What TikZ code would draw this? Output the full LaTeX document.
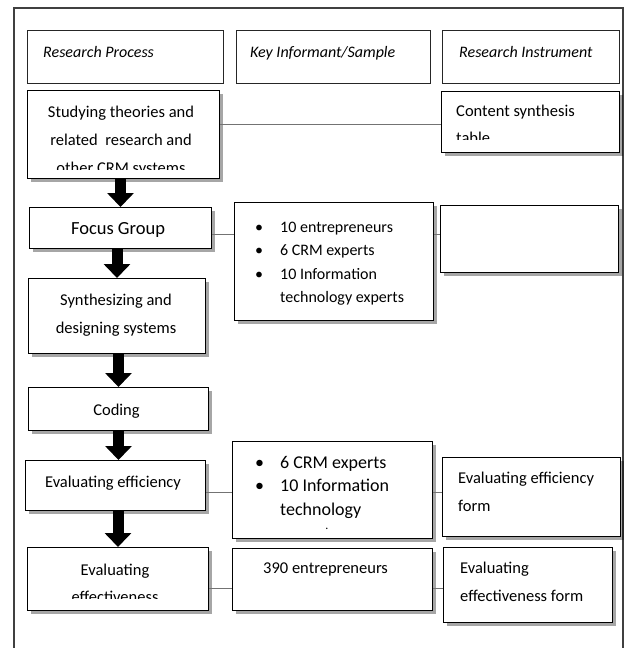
\documentclass[tikz,border=0pt]{standalone}
\usepackage{fontspec}
\setmainfont{Carlito}
\usetikzlibrary{arrows.meta,shadows}
\begin{document}
\begin{tikzpicture}[x=1pt,y=-1pt,
  box/.style={draw=black, line width=1pt, fill=white, anchor=north west, inner sep=0pt,
    drop shadow={shadow xshift=3pt, shadow yshift=-3pt, opacity=0.35, fill=black}},
  hbox/.style={draw=black!85, line width=0.9pt, fill=white, anchor=north west, inner sep=0pt},
  conn/.style={draw=black!55, line width=0.8pt},
  flow/.style={line width=11pt, black, -{Triangle[width=26pt,length=14pt]}},
  hd/.style={inner sep=0pt, anchor=base west, font=\fontsize{16}{20}\selectfont\itshape},
  one/.style={inner sep=0pt, anchor=base, font=\fontsize{16.5}{27}\selectfont},
  onel/.style={inner sep=0pt, anchor=base west, font=\fontsize{16.5}{27}\selectfont},
  ctext/.style={inner sep=0pt, anchor=north, align=center, font=\fontsize{16.5}{#1}\selectfont},
  ltext/.style={inner sep=0pt, anchor=north west, align=left, font=\fontsize{16.5}{#1}\selectfont},
  blist/.style={inner sep=0pt, anchor=north west, align=left},
]
\useasboundingbox (0,0) rectangle (625,648);
\fill[white] (0,0) rectangle (625,648);
% outer frame
\draw[line width=1.5pt, black!75] (14,8) rectangle (623,670);

% header boxes
\node[hbox, minimum width=196pt, minimum height=53pt] (hrp) at (27,30) {};
\node[hbox, minimum width=194pt, minimum height=53pt] (hki) at (236,30) {};
\node[hbox, minimum width=177pt, minimum height=53pt] (hri) at (442,30) {};
\node[hd] (thrp) at (43,57) {Research Process};
\node[hd] (thki) at (250,57) {Key Informant/Sample};
\node[hd] (thri) at (459,57) {Research Instrument};

% connector levels
\coordinate (l1) at (0,124);
\coordinate (l2) at (0,234);
\coordinate (l3) at (0,492);
\coordinate (l4) at (0,588);

% process boxes
\node[box, minimum width=192pt, minimum height=88pt] (study) at (27,90) {};
\node[box, minimum width=178pt, minimum height=61pt] (content) at (441,91) {};
\node[box, minimum width=182pt, minimum height=41pt] (focus) at (29,207) {};
\node[box, minimum width=199pt, minimum height=118pt] (b1) at (234,202) {};
\node[box, minimum width=178pt, minimum height=67pt] (empty) at (440,205) {};
\node[box, minimum width=177pt, minimum height=75pt] (synth) at (28,278) {};
\node[box, minimum width=180pt, minimum height=43pt] (coding) at (28,387) {};
\node[box, minimum width=180pt, minimum height=50pt] (evaleff) at (25,460) {};
\node[box, minimum width=200pt, minimum height=97pt] (b2) at (232,441) {};
\node[box, minimum width=178pt, minimum height=79pt] (form1) at (442,457) {};
\node[box, minimum width=181pt, minimum height=63pt] (evaleft) at (27,547) {};
\node[box, minimum width=200pt, minimum height=62pt] (n390) at (232,548) {};
\node[box, minimum width=169pt, minimum height=75pt] (form2) at (443,547) {};

% connectors
\draw[conn] (study.east |- l1) -- (content.west |- l1);
\draw[conn] (focus.east |- l2) -- (b1.west |- l2);
\draw[conn] (b1.east |- l2) -- (empty.west |- l2);
\draw[conn] (evaleff.east |- l3) -- (b2.west |- l3);
\draw[conn] (b2.east |- l3) -- (form1.west |- l3);
\draw[conn] (evaleft.east |- l4) -- (n390.west |- l4);
\draw[conn] (n390.east |- l4) -- (form2.west |- l4);

% texts
\begin{scope}
\clip (27,90) rectangle (219,169);
\node[ctext=28] (tstudy) at (121,104) {\rule{0pt}{13pt}Studying theories and\\ related\ \ research and\\ other CRM systems};
\end{scope}
\begin{scope}
\clip (441,91) rectangle (619,139);
\node[ltext=27] (tcontent) at (456,103) {\rule{0pt}{13pt}Content synthesis\\ table};
\end{scope}
\node[one, font=\fontsize{18.5}{22}\selectfont] (tfocus) at (118,234) {Focus Group};
\node[blist, font=\fontsize{16}{23.5}\selectfont] (tb1) at (255,219) {\rule{0pt}{13pt}\makebox[25pt][l]{\textbullet}10 entrepreneurs\\
\makebox[25pt][l]{\textbullet}6 CRM experts\\
\makebox[25pt][l]{\textbullet}10 Information\\
\hspace*{25pt}technology experts};
\node[ctext=28] (tsynth) at (116,292) {\rule{0pt}{13pt}Synthesizing and\\ designing systems};
\node[one] (tcoding) at (116.5,415) {Coding};
\node[one] (tevaleff) at (113,487) {Evaluating efficiency};
\node[blist, font=\fontsize{18}{23.5}\selectfont] (tb2) at (255,454) {\rule{0pt}{14pt}\makebox[25pt][l]{\textbullet}6 CRM experts\\
\makebox[25pt][l]{\textbullet}10 Information\\
\hspace*{25pt}technology};
\node[one, font=\fontsize{12}{14}\selectfont] (tdot) at (327,529) {.};
\node[ltext=28] (tform1) at (458,470) {\rule{0pt}{13pt}Evaluating efficiency\\ form};
\begin{scope}
\clip (27,547) rectangle (208,598);
\node[ctext=27] (tevaleft) at (115,562) {\rule{0pt}{13pt}Evaluating\\ effectiveness};
\end{scope}
\node[onel] (t390) at (263,573) {390 entrepreneurs};
\node[ltext=28] (tform2) at (460,560) {\rule{0pt}{13pt}Evaluating\\ effectiveness form};

% flow arrows
\draw[flow] (focus.north |- study.south) -- (focus.north);
\draw[flow] (synth.north |- focus.south) -- (synth.north);
\draw[flow] (coding.north |- synth.south) -- (coding.north);
\draw[flow] (coding.south) -- (coding.south |- evaleff.north);
\draw[flow] (evaleft.north |- evaleff.south) -- (evaleft.north);
\end{tikzpicture}
\end{document}
